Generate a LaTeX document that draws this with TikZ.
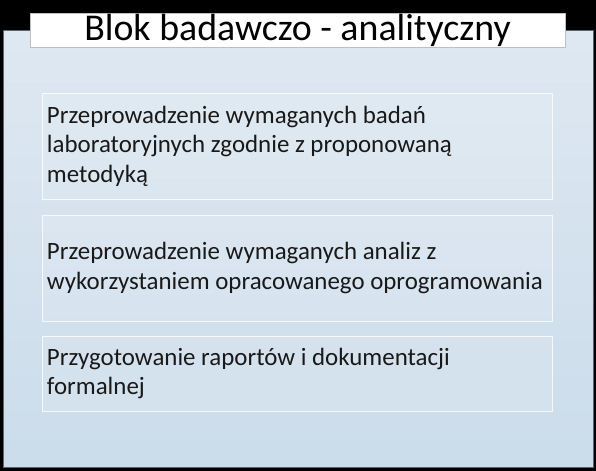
\documentclass[tikz,border=0pt]{standalone}
\usepackage{fontspec}
\setmainfont{Carlito}
\definecolor{paneltop}{RGB}{222,232,242}
\definecolor{panelbot}{RGB}{203,220,234}
\definecolor{paneledge}{RGB}{90,100,110}
\tikzset{
  stepbox/.style={draw=white, draw opacity=0.8, line width=0.8bp, fill=white, fill opacity=0.12,
    text opacity=1, minimum width=510bp, text width=500bp, inner xsep=5bp, align=flush left,
    font=\fontsize{25}{29.5}\selectfont, text=black!90},
  titlebox/.style={draw=black!25, fill=white, minimum width=535bp, minimum height=34bp,
    inner sep=0pt, font=\fontsize{38}{40}\selectfont}
}
\begin{document}
\begin{tikzpicture}[x=1bp,y=-1bp]
    % Tlo
    \fill[black] (0,0) rectangle (596,471);
    \useasboundingbox (0,0) rectangle (596,471);

    % Panel
    \shade[top color=paneltop, bottom color=panelbot] (3,31) rectangle (593,467);
    \draw[paneledge, line width=1bp] (3,31) rectangle (593,467);

    % Tytul
    \node[titlebox] (tytul) at (297.5,30) {Blok badawczo - analityczny};

    % Zadania
    \node[stepbox, minimum height=106bp] (badania) at (297,146)
      {Przeprowadzenie wymaganych badań\\ laboratoryjnych zgodnie z proponowaną\\ metodyką};
    \node[stepbox, minimum height=106bp] (analizy) at (297,268)
      {Przeprowadzenie wymaganych analiz z\\ wykorzystaniem opracowanego oprogramowania};
    \node[stepbox, minimum height=75bp] (raporty) at (297,373.5)
      {Przygotowanie raportów i dokumentacji\\ formalnej};
\end{tikzpicture}
\end{document}
